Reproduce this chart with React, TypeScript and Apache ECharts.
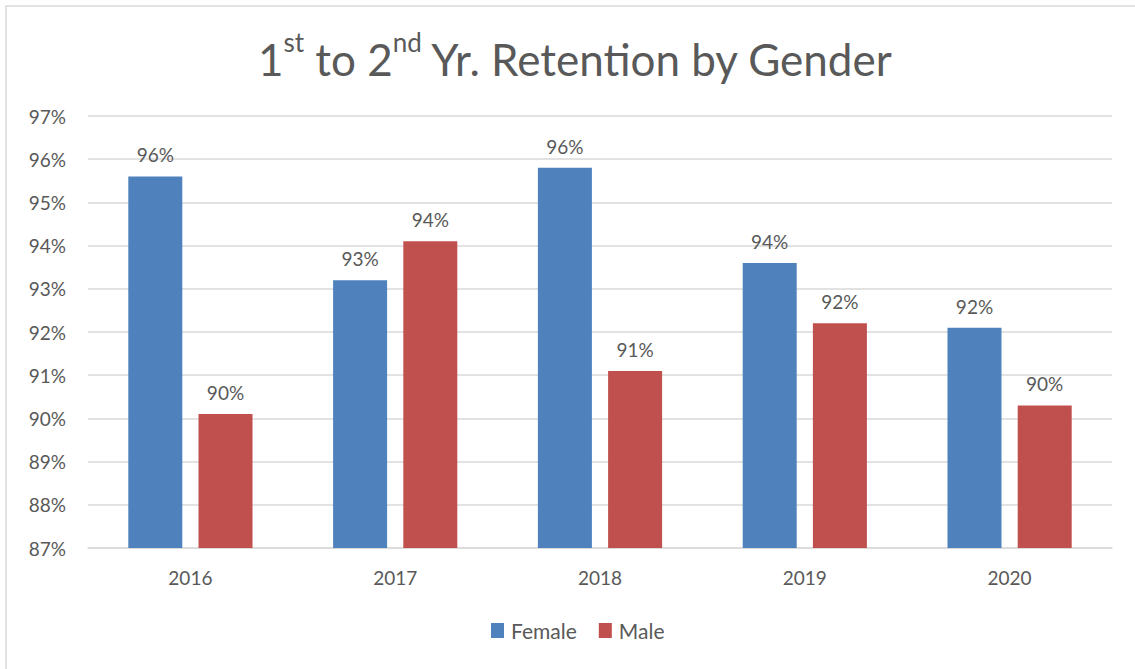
import React, { useEffect, useRef } from "react";
import * as echarts from "echarts";

const years = ["2016", "2017", "2018", "2019", "2020"];
const female = [95.6, 93.2, 95.8, 93.6, 92.1];
const male = [90.1, 94.1, 91.1, 92.2, 90.3];
const yMin = 87;
const yMax = 97;

const FONT = "Lato, 'Open Sans', sans-serif";
const TXT = "#595959";

export default function App() {
  const ref = useRef<HTMLDivElement>(null);
  useEffect(() => {
    if (!ref.current) return;
    const chart = echarts.init(ref.current, null, { renderer: "svg" });
    const label = {
      show: true,
      position: "top" as const,
      distance: 12,
      color: TXT,
      fontSize: 19,
      fontFamily: FONT,
      formatter: (p: any) => Math.round(p.value) + "%",
    };
    chart.setOption({
      animation: false,
      backgroundColor: "#fff",
      textStyle: { fontFamily: FONT },
      graphic: [
        {
          type: "rect",
          shape: { x: 6, y: 6, width: 1200, height: 800 },
          style: { fill: "none", stroke: "#d9d9d9", lineWidth: 1.5 },
          silent: true,
        },
      ],
      title: {
        left: 253,
        top: 24,
        text: "{n|1}{s|st}{n| to 2}{s|nd}{n| Yr. Retention by Gender}",
        textStyle: {
          fontWeight: "normal",
          rich: {
            n: { fontSize: 44, fontWeight: "normal", color: TXT, fontFamily: FONT, lineHeight: 52, verticalAlign: "bottom" },
            s: { fontSize: 26, fontWeight: "normal", color: TXT, fontFamily: FONT, lineHeight: 52, verticalAlign: "top" },
          },
        },
      },
      legend: {
        bottom: 23,
        left: 486,
        itemWidth: 13,
        itemHeight: 15,
        itemGap: 22,
        icon: "rect",
        textStyle: { color: TXT, fontSize: 21, fontFamily: FONT, padding: [0, 0, 0, 2] },
        data: ["Female", "Male"],
      },
      grid: { left: 88, right: 23, top: 116, bottom: 121 },
      xAxis: {
        type: "category",
        data: years,
        axisTick: { show: false },
        axisLine: { lineStyle: { color: "#d9d9d9", width: 1.5 } },
        axisLabel: { color: TXT, fontSize: 19, fontFamily: FONT, margin: 20 },
      },
      yAxis: {
        type: "value",
        min: yMin,
        max: yMax,
        interval: 1,
        axisLabel: {
          color: TXT,
          fontSize: 19,
          fontFamily: FONT,
          margin: 22,
          formatter: (v: number) => v + "%",
        },
        splitLine: { lineStyle: { color: "#d9d9d9", width: 1.5 } },
        axisLine: { show: false },
        axisTick: { show: false },
      },
      series: [
        {
          name: "Female",
          type: "bar",
          data: female,
          barWidth: 54,
          barGap: "30%",
          itemStyle: { color: "#4f81bd" },
          label,
        },
        {
          name: "Male",
          type: "bar",
          data: male,
          barWidth: 54,
          barGap: "30%",
          itemStyle: { color: "#c0504d" },
          label,
        },
      ],
    });
    return () => chart.dispose();
  }, []);
  return (
    <div
      ref={ref}
      style={{ position: "fixed", left: 0, top: 0, width: 1135, height: 669 }}
    />
  );
}
